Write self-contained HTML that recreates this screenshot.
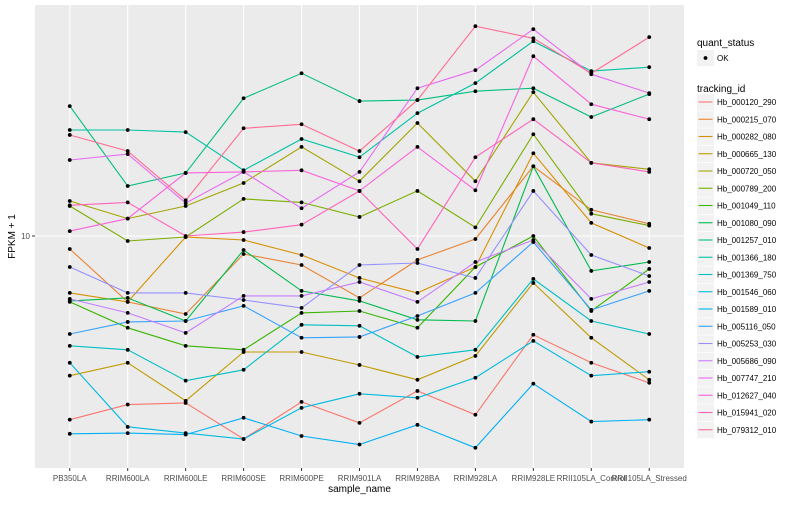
<!DOCTYPE html>
<html><head><meta charset="utf-8"><style>
body{margin:0;background:#fff;font-family:"Liberation Sans",sans-serif}
</style></head><body>
<svg id="chart" width="800" height="500" xmlns="http://www.w3.org/2000/svg" font-family="Liberation Sans, sans-serif"></svg>
<script>
const categories=["PB350LA","RRIM600LA","RRIM600LE","RRIM600SE","RRIM600PE","RRIM901LA","RRIM928BA","RRIM928LA","RRIM928LE","RRII105LA_Control","RRII105LA_Stressed"];
const seriesNames=["Hb_000120_290","Hb_000215_070","Hb_000282_080","Hb_000665_130","Hb_000720_050","Hb_000789_200","Hb_001049_110","Hb_001080_090","Hb_001257_010","Hb_001366_180","Hb_001369_750","Hb_001546_060","Hb_001589_010","Hb_005116_050","Hb_005253_030","Hb_005686_090","Hb_007747_210","Hb_012627_040","Hb_015941_020","Hb_079312_010"];
const seriesColors=["#F8766D","#EA8331","#D89000","#C09B00","#A3A500","#7CAE00","#39B600","#00BB4E","#00BF7D","#00C1A3","#00BFC4","#00BAE0","#00B0F6","#35A2FF","#9590FF","#C77CFF","#E76BF3","#FA62DB","#FF62BC","#FF6C91"];
const s01=[1.59,1.85,1.88,1.31,1.90,1.54,2.12,1.67,3.72,2.81,2.30];
const s02=[8.78,5.17,4.58,8.35,7.48,5.38,7.87,9.70,20.1,13.0,11.3];
const s03=[5.66,5.17,9.90,9.61,8.27,6.57,5.66,7.33,22.9,11.4,8.87];
const s04=[2.47,2.81,1.92,3.13,3.13,2.75,2.37,3.01,6.25,3.61,2.37];
const s05=[14.2,11.9,13.5,17.0,24.4,17.3,31.0,17.3,42.2,20.8,19.5];
const s06=[13.5,9.51,9.90,14.5,14.0,12.1,15.7,10.9,27.7,12.5,11.1];
const s07=[5.17,3.99,3.33,3.20,4.63,4.72,3.99,7.33,10.0,4.72,7.19];
const s08=[5.22,5.38,4.27,8.69,5.77,5.22,4.32,4.27,20.1,7.05,7.71];
const s09=[36.7,16.5,18.8,39.7,51.0,38.6,39.0,42.6,43.9,32.9,41.4];
const s10=[28.9,28.9,28.3,19.3,26.4,22.0,34.2,46.2,70.3,52.1,54.2];
const s11=[3.33,3.20,2.35,2.62,4.11,4.07,2.98,3.20,6.51,4.27,3.75];
const s12=[2.81,1.48,1.39,1.31,1.79,2.06,1.98,2.42,3.50,2.47,2.57];
const s13=[1.38,1.39,1.37,1.62,1.35,1.24,1.51,1.20,2.28,1.56,1.59];
const s14=[3.75,4.23,4.27,4.97,3.61,3.64,4.49,5.66,9.42,4.77,5.77];
const s15=[7.33,5.66,5.66,5.27,4.87,7.48,7.63,6.57,15.7,8.27,6.70];
const s16=[5.33,4.63,3.79,5.49,5.49,6.31,5.17,7.71,9.61,5.33,6.31];
const s17=[21.4,22.7,13.9,19.0,13.2,19.0,43.9,52.6,79.3,50.5,41.8];
const s18=[10.5,11.9,18.8,19.0,19.3,15.7,24.4,15.8,60.5,37.4,32.2];
const s19=[13.6,14.0,10.0,10.4,11.2,15.7,8.78,22.0,32.2,20.8,19.0];
const s20=[27.5,23.4,14.3,29.4,30.6,23.4,39.0,81.7,72.4,51.0,73.2];
const seriesValues=[s01,s02,s03,s04,s05,s06,s07,s08,s09,s10,s11,s12,s13,s14,s15,s16,s17,s18,s19,s20];
const yTickValues=[10];
const yTickLabels=["10"];

const NS="http://www.w3.org/2000/svg";
const svg=document.getElementById('chart');
const P={l:35,r:684,t:5,b:468};
const logLo=Math.log10(10)-(P.b-236)/230, logHi=Math.log10(10)+(236-P.t)/230;
function yScale(v){return P.b-(Math.log10(v)-logLo)/(logHi-logLo)*(P.b-P.t);}
function xScale(i){const step=(P.r-P.l)/(categories.length+0.2);return P.l+step*0.6+i*step;}
function mk(tag,attrs,parent){const e=document.createElementNS(NS,tag);for(const k in attrs)e.setAttribute(k,attrs[k]);(parent||svg).appendChild(e);return e;}

const bg=mk('rect',{x:P.l,y:P.t,width:P.r-P.l,height:P.b-P.t,fill:'#EBEBEB'});


categories.forEach((c,i)=>{
  const g=mk('line',{x1:xScale(i),x2:xScale(i),y1:P.t,y2:P.b,stroke:'#fff','stroke-width':1.1});
  
  
  const t=mk('line',{x1:xScale(i),x2:xScale(i),y1:P.b,y2:P.b+3,stroke:'#333'});
  
  
  const l=mk('text',{x:xScale(i),y:P.b+13,'text-anchor':'middle','font-size':8,fill:'#4D4D4D'});
  l.textContent=c;
  
  
});
yTickValues.forEach((v,i)=>{
  const y=yScale(v);
  const g=mk('line',{x1:P.l,x2:P.r,y1:y,y2:y,stroke:'#fff','stroke-width':1.1});
  
  
  const t=mk('line',{x1:P.l-3,x2:P.l,y1:y,y2:y,stroke:'#333'});
  
  
  const l=mk('text',{x:P.l-5,y:y+3,'text-anchor':'end','font-size':8,fill:'#4D4D4D'});
  l.textContent=yTickLabels[i];
  
  
});
seriesValues.forEach((vals,s)=>{
  const pts=vals.map((v,i)=>xScale(i).toFixed(1)+','+yScale(v).toFixed(1)).join(' ');
  const pl=mk('polyline',{points:pts,fill:'none',stroke:seriesColors[s],'stroke-width':1.1});
  
  
});
seriesValues.forEach((vals,s)=>{
  vals.forEach((v,i)=>{
    const c=mk('circle',{cx:xScale(i),cy:yScale(v),r:1.9,fill:'#000'});
    
    
  });
});
// legend
const t1=mk('text',{x:697,y:46,'font-size':10,fill:'#000'});
t1.textContent='quant_status';


const okBox=mk('rect',{x:697,y:50,width:17,height:16,fill:'#F2F2F2'});


const okDot=mk('circle',{cx:705.5,cy:58,r:1.9,fill:'#000'});


const okT=mk('text',{x:717,y:61,'font-size':8,fill:'#000'});
okT.textContent='OK';


const t2=mk('text',{x:697,y:92,'font-size':10,fill:'#000'});
t2.textContent='tracking_id';


seriesNames.forEach((n,i)=>{
  const y=102+i*17.25;
  const b=mk('rect',{x:697,y:y-8,width:17,height:16.5,fill:'#F2F2F2'});
  
  
  const ln=mk('line',{x1:698.5,x2:712.5,y1:y,y2:y,stroke:seriesColors[i],'stroke-width':1.1});
  
  
  const tx=mk('text',{x:717,y:y+3,'font-size':8,fill:'#000'});
  tx.textContent=n;
  
  
});
const xt=mk('text',{x:(P.l+P.r)/2,y:492,'text-anchor':'middle','font-size':10,fill:'#000'});
xt.textContent='sample_name';


const yt=mk('text',{x:0,y:0,'text-anchor':'middle','font-size':10,fill:'#000',transform:'translate(15,'+((P.t+P.b)/2)+') rotate(-90)'});
yt.textContent='FPKM + 1';


</script>
</body></html>
